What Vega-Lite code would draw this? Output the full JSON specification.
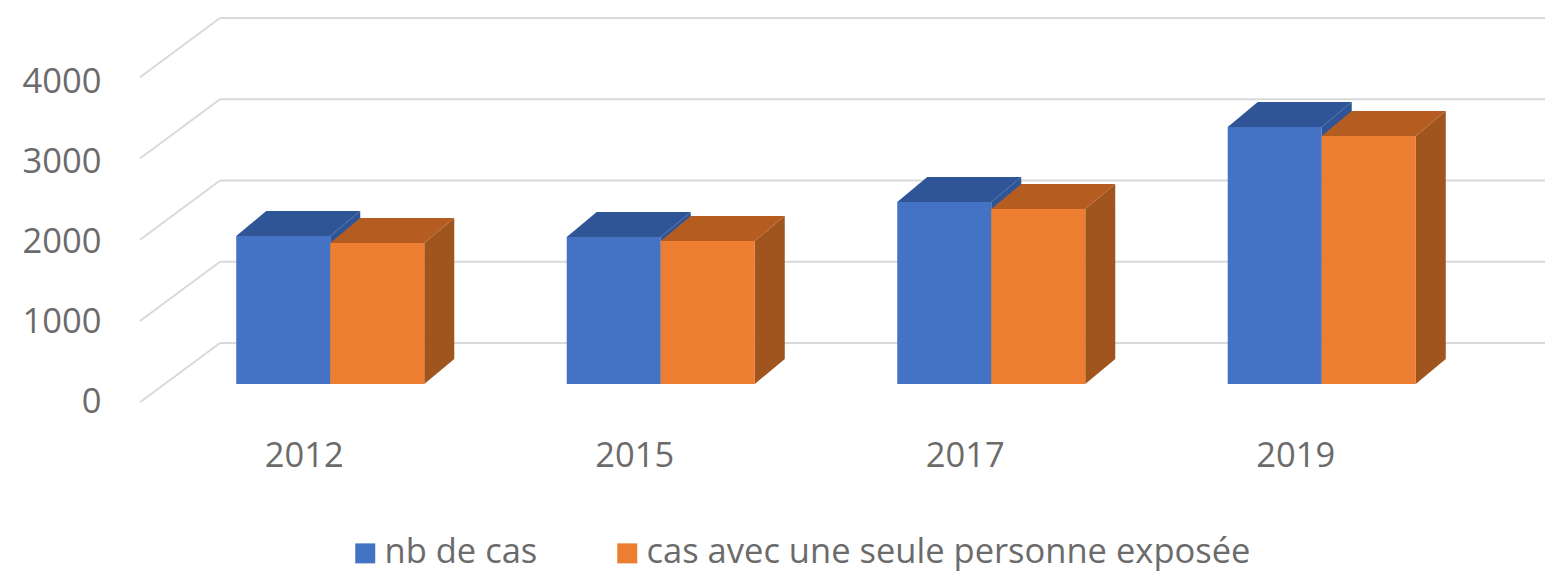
{
"$schema":"https://vega.github.io/schema/vega-lite/v6.json",
"width":1553,"height":581,"autosize":{"type":"none"},"padding":0,"background":"white",
"config":{"view":{"stroke":null},"font":"Open Sans"},
"datasets":{
"bars":[
{"year":"2012","series":"nb de cas","value":1827},
{"year":"2012","series":"cas avec une seule personne exposée","value":1741},
{"year":"2015","series":"nb de cas","value":1815},
{"year":"2015","series":"cas avec une seule personne exposée","value":1765},
{"year":"2017","series":"nb de cas","value":2247},
{"year":"2017","series":"cas avec une seule personne exposée","value":2160},
{"year":"2019","series":"nb de cas","value":3173},
{"year":"2019","series":"cas avec une seule personne exposée","value":3062}],
"levels":[{"level":0},{"level":1000},{"level":2000},{"level":3000},{"level":4000}]
},
"layer":[
{"data":{"name":"levels"},
 "encoding":{"y":{"field":"level","type":"quantitative","scale":{"domain":[0,4000],"range":[343,18]},"axis":null}},
 "layer":[
  {"mark":{"type":"rule","stroke":"#D9D9D9","strokeWidth":2},
   "encoding":{"x":{"datum":0,"type":"quantitative","scale":{"domain":[0,1],"range":[220,1545]},"axis":null},"x2":{"datum":1}}},
  {"mark":{"type":"point","shape":"M0,0L-1,0.74","size":25600,"filled":false,"stroke":"#D9D9D9","strokeWidth":2,"opacity":1},
   "encoding":{"x":{"datum":0,"type":"quantitative","scale":{"domain":[0,1],"range":[220,1545]},"axis":null}}}
 ]},
{"data":{"name":"levels"},
 "mark":{"type":"rule","opacity":0},
 "encoding":{"y":{"field":"level","type":"quantitative","scale":{"domain":[0,4000],"range":[402,82]},
   "axis":{"orient":"left","offset":-101,"title":null,"grid":false,"domain":false,"ticks":false,"values":[0,1000,2000,3000,4000],"format":"d","labelPadding":0,"labelFontSize":34.5,"labelColor":"#6B6B6B","labelFont":"Open Sans"}}}},
{"data":{"name":"bars"},
 "mark":{"type":"bar","width":30,"opacity":1},
 "encoding":{
  "x":{"field":"year","type":"nominal","sort":null,"scale":{"range":[227,1549],"paddingInner":0.431,"paddingOuter":0.2155},"axis":null},
  "xOffset":{"field":"series","type":"nominal","sort":["nb de cas","cas avec une seule personne exposée"],"scale":{"domain":["nb de cas","cas avec une seule personne exposée"]}},
  "y":{"field":"value","type":"quantitative","scale":{"domain":[0,4000],"range":[384,60]},"axis":null},"y2":{"datum":309},
  "color":{"condition":{"test":"datum.series==='nb de cas'","value":"#2F5597"},"value":"#A0551E"}}},
{"data":{"name":"bars"},
 "encoding":{
  "x":{"field":"year","type":"nominal","sort":null,"scale":{"range":[165,1487],"paddingInner":0.431,"paddingOuter":0.2155},
    "axis":{"orient":"bottom","offset":-151,"title":null,"domain":false,"ticks":false,"labelAngle":0,"labelPadding":9,"labelOffset":-26,"labelFontSize":34.5,"labelColor":"#6B6B6B","labelFont":"Open Sans"}},
  "xOffset":{"field":"series","type":"nominal","sort":["nb de cas","cas avec une seule personne exposée"],"scale":{"domain":["nb de cas","cas avec une seule personne exposée"]}}
 },
 "layer":[
  {"mark":{"type":"point","shape":"M0.47,0L0.77,-0.25L0.77,0Z","size":40000,"filled":true,"opacity":1},
   "encoding":{"y":{"field":"value","type":"quantitative","scale":{"domain":[0,4000],"range":[384,60]},"axis":null},
    "color":{"condition":{"test":"datum.series==='nb de cas'","value":"#2F5597"},"value":"#A0551E"}}},
  {"mark":{"type":"point","shape":"M0.47,0L0.77,-0.25L0.47,-0.25Z","size":40000,"filled":true,"opacity":1},
   "encoding":{"y":{"datum":0,"type":"quantitative"},
    "color":{"condition":{"test":"datum.series==='nb de cas'","value":"#2F5597"},"value":"#A0551E"}}},
  {"mark":{"type":"point","shape":"M-0.47,0L0.47,0L0.77,-0.25L-0.17,-0.25Z","size":40000,"filled":true,"opacity":1},
   "encoding":{"y":{"field":"value","type":"quantitative"},
    "color":{"condition":{"test":"datum.series==='nb de cas'","value":"#2F5597"},"value":"#B55D20"}}},
  {"mark":{"type":"bar","opacity":1},
   "encoding":{"y":{"field":"value","type":"quantitative"},"y2":{"datum":0},
    "color":{"field":"series","type":"nominal","sort":null,
      "scale":{"domain":["nb de cas","cas avec une seule personne exposée"],"range":["#4472C4","#ED7D31"]},
      "legend":{"orient":"none","legendX":348,"legendY":536,"direction":"horizontal","title":null,"symbolType":"square","symbolSize":400,"labelFontSize":34.5,"labelOffset":2,"labelColor":"#6B6B6B","labelFont":"Open Sans","labelLimit":800,"columnPadding":72,"symbolOpacity":1}}}}
 ]}
],
"resolve":{"scale":{"x":"independent","y":"independent"},"axis":{"x":"independent","y":"independent"}}
}
